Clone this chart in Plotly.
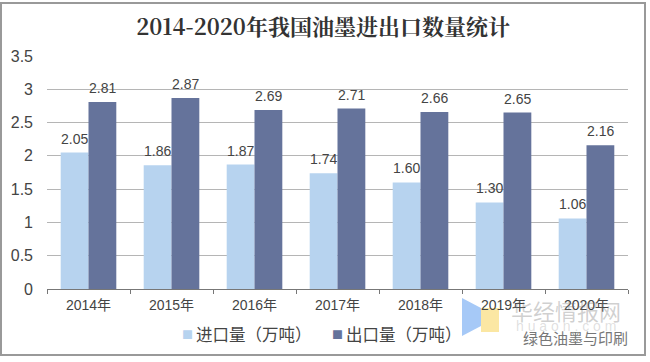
import plotly.graph_objects as go

W, H = 650, 362
title = "2014-2020年我国油墨进出口数量统计"
categories = ["2014年", "2015年", "2016年", "2017年", "2018年", "2019年", "2020年"]
imports = [2.05, 1.86, 1.87, 1.74, 1.60, 1.30, 1.06]
exports = [2.81, 2.87, 2.69, 2.71, 2.66, 2.65, 2.16]
tick_values = [0, 0.5, 1, 1.5, 2, 2.5, 3, 3.5]
tick_labels = ["0", "0.5", "1", "1.5", "2", "2.5", "3", "3.5"]
import_name = "进口量（万吨）"
export_name = "出口量（万吨）"
IMPORT_COLOR = "#b7d3ef"
EXPORT_COLOR = "#65739b"

FONT = "Liberation Sans, Noto Sans CJK SC, sans-serif"
CJK = "Noto Sans CJK SC"
PW, PH = 581, 233
def px(x): return (x - 47) / PW
def py(y): return (289 - y) / PH

fig = go.Figure()
for name, vals, col in [(import_name, imports, IMPORT_COLOR), (export_name, exports, EXPORT_COLOR)]:
    fig.add_trace(go.Bar(name=name, x=categories, y=vals, marker_color=col, marker_line_width=0))

annotations = []
for vals, shift in [(imports, -13.9), (exports, 13.9)]:
    for c, v in zip(categories, vals):
        annotations.append(dict(x=c, y=v, xref="x", yref="y", text=f"{v:.2f}", showarrow=False,
                                xshift=shift, yshift=4, yanchor="bottom",
                                font=dict(size=14, color="#444444", family=FONT)))
for sx, tx, col, name in [(187, 194, IMPORT_COLOR, import_name), (337, 344, EXPORT_COLOR, export_name)]:
    annotations.append(dict(text="■", xref="paper", yref="paper", x=px(sx), y=py(334), showarrow=False,
                            xanchor="center", yanchor="middle",
                            font=dict(size=11, color=col, family=CJK)))
    annotations.append(dict(text=name, xref="paper", yref="paper", x=px(tx), y=py(334), showarrow=False,
                            xanchor="left", yanchor="middle", font=dict(size=16.5, color="#444444", family=CJK)))
annotations += [
    dict(text="华经情报网", xref="paper", yref="paper", x=px(566), y=py(310), showarrow=False,
         xanchor="center", yanchor="middle",
         font=dict(size=22, color="rgba(120,120,120,0.35)", family=CJK)),
    dict(text="h u a o n . c o m", xref="paper", yref="paper", x=px(566), y=py(326), showarrow=False,
         xanchor="center", yanchor="middle",
         font=dict(size=14, color="rgba(150,150,150,0.3)", family=FONT)),
    dict(text="绿色油墨与印刷", xref="paper", yref="paper", x=px(575), y=py(337), showarrow=False,
         xanchor="center", yanchor="middle",
         font=dict(size=15, color="#777777", family=CJK)),
]

fig.update_layout(
    width=W, height=H, autosize=False,
    margin=dict(l=47, r=22, t=56, b=73, autoexpand=False),
    paper_bgcolor="white", plot_bgcolor="white",
    barmode="group", bargap=0.33, bargroupgap=0, showlegend=False,
    font=dict(family=FONT, color="#444444"),
    title=dict(text=f"<b>{title}</b>", x=0.497, xanchor="center", y=0.925, yanchor="middle",
               font=dict(family="Noto Serif CJK SC, Noto Sans CJK SC, DejaVu Serif, serif", size=22, color="#333333")),
    xaxis=dict(showline=True, linecolor="#777777", linewidth=1, ticks="outside", ticklen=4, tickcolor="#777777",
               tickson="boundaries", ticklabelstandoff=3,
               tickfont=dict(size=14, color="#444444", family=FONT), showgrid=False),
    yaxis=dict(range=[0, 3.5], tickvals=tick_values, ticktext=tick_labels, showgrid=True, gridcolor="#b5b5b5",
               gridwidth=1, zeroline=False, showline=False, ticks="", ticklabelstandoff=13,
               tickfont=dict(size=16, color="#444444", family=FONT)),
    shapes=[
        dict(type="rect", xref="paper", yref="paper", x0=px(1), x1=px(645), y0=py(355), y1=py(3),
             line=dict(color="#999999", width=2), fillcolor="rgba(0,0,0,0)", layer="above"),
        dict(type="path", xref="paper", yref="paper",
             path=f"M {px(462)} {py(298)} L {px(481)} {py(308)} L {px(481)} {py(326)} L {px(462)} {py(336)} Z",
             fillcolor="#a6c9f7", line_width=0, layer="below"),
        dict(type="rect", xref="paper", yref="paper", x0=px(481), x1=px(499), y0=py(332), y1=py(308),
             fillcolor="#fbe7a3", line_width=0, layer="below"),
    ],
    annotations=annotations,
)
fig.write_html("out.html", config={"displayModeBar": False},
               post_script="document.body.style.margin='0';document.documentElement.style.overflow='hidden';")
